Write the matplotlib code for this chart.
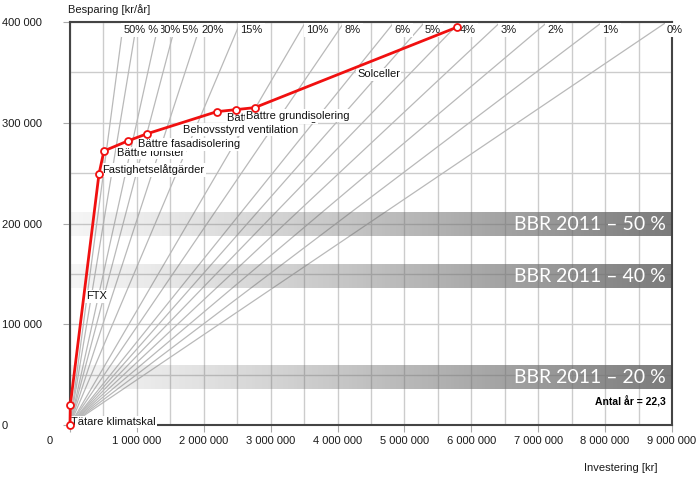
import numpy as np
import matplotlib.pyplot as plt
from matplotlib.transforms import blended_transform_factory, offset_copy, ScaledTranslation

# investering [kr] och besparing [kr/år], ackumulerat efter varje åtgärd
investering = [0, 5000, 433000, 507000, 866000, 1149000, 2194000, 2478000, 2761000, 5791000]
besparing = [0, 20000, 249000, 272000, 282000, 289000, 311000, 313000, 315000, 395000]
atgarder = ["Tätare klimatskal", "FTX", "Fastighetselåtgärder", "Bättre fönster",
            "Bättre fasadisolering", "Behovsstyrd ventilation", "Bättre takisolering",
            "Bättre grundisolering", "Solceller"]

antal_ar = 22.3
rantor = [50, 40, 30, 25, 20, 15, 10, 8, 6, 5, 4, 3, 2, 1, 0]

bbr_namn = ["BBR 2011 – 50 %", "BBR 2011 – 40 %", "BBR 2011 – 20 %"]
bbr_niva = [199000, 147000, 47000]

xmax, ymax = 9000000, 400000

plt.rcParams['font.family'] = ['Liberation Sans', 'DejaVu Sans']
fig = plt.figure(figsize=(6.96, 4.84), dpi=100)
ax = fig.add_axes([70/696, 59/484, 602/696, 403/484])

# rutnät
ax.set_xticks(np.arange(0, xmax + 1, 1000000))
ax.set_xticks(np.arange(0, xmax + 1, 500000), minor=True)
ax.set_yticks(np.arange(0, ymax + 1, 100000))
ax.set_yticks(np.arange(0, ymax + 1, 50000), minor=True)
ax.grid(True, which='both', color='#cccccc', lw=1, zorder=0)
ax.set_axisbelow(True)

def fmt(v):
    return f"{v:,.0f}".replace(",", " ")

ax.set_xticklabels([fmt(v) for v in ax.get_xticks()])
ax.set_yticklabels([fmt(v) for v in ax.get_yticks()])
ax.tick_params(which='major', length=5, color='#aaaaaa', labelsize=8, labelcolor='#1a1a1a')
ax.tick_params(which='minor', length=0)
ax.tick_params(axis='x', pad=3)
ax.tick_params(axis='y', pad=44)
for lab in ax.get_yticklabels():
    lab.set_horizontalalignment('left')
# nollan på x-axeln sitter till vänster om axeln i originalet
lab0 = ax.get_xticklabels()[0]
lab0.set_transform(lab0.get_transform() + ScaledTranslation(-0.2, 0, fig.dpi_scale_trans))

for s in ax.spines.values():
    s.set_color('#444444')
    s.set_linewidth(1.5)

# linjer för konstant ränta (annuitet)
btrans = blended_transform_factory(ax.transData, ax.transAxes)
for r in reversed(rantor):
    i = r / 100
    a = 1 / antal_ar if i == 0 else i / (1 - (1 + i) ** -antal_ar)
    ax.plot([0, xmax], [0, a * xmax], color='#b9b9b9', lw=0.9, zorder=1)
for r in reversed(rantor):
    i = r / 100
    a = 1 / antal_ar if i == 0 else i / (1 - (1 + i) ** -antal_ar)
    ax.text(ymax / a, 0.98, f"{r}%", transform=btrans, ha='left', va='center',
            fontsize=8, color='#1a1a1a', zorder=3,
            bbox=dict(fc='white', ec='none', pad=1.5))

# BBR-band
grad = np.zeros((1, 256, 4))
grad[..., :3] = 0.42
grad[..., 3] = np.linspace(0.12, 0.92, 256) ** 1.3
for namn, niva in zip(bbr_namn, bbr_niva):
    ax.imshow(grad, extent=[0, xmax, niva - 11500, niva + 11500], aspect='auto',
              zorder=2.2, interpolation='bilinear')
    ax.text(8910000, niva, namn, ha='right', va='center', color='white',
            fontsize=14, family='Lato', zorder=2.3)

ax.text(8910000, 22800, f"Antal år = {str(antal_ar).replace('.', ',')}", ha='right',
        va='center', fontsize=7.5, fontweight='bold', color='black', zorder=3)

# åtgärdskurva
for k, namn in enumerate(atgarder):
    mx = (investering[k] + investering[k + 1]) / 2
    my = (besparing[k] + besparing[k + 1]) / 2
    ax.text(mx, my, namn, ha='left', va='top', fontsize=8, color='#111111', zorder=3,
            transform=offset_copy(ax.transData, fig=fig, x=1, y=-2, units='dots'),
            bbox=dict(fc='white', ec='none', pad=1))
ax.plot(investering, besparing, color='#f01010', lw=2, marker='o', ms=5,
        mfc='white', mec='#f01010', mew=1.3, zorder=4, clip_on=False)

ax.set_xlim(0, xmax)
ax.set_ylim(0, ymax)

fig.text(68/696, 1 - 10/484, "Besparing [kr/år]", fontsize=8, ha='left', va='center', color='#1a1a1a')
fig.text(621/696, 1 - 468/484, "Investering [kr]", fontsize=8, ha='center', va='center', color='#1a1a1a')

fig.savefig("out.png", dpi=100)
